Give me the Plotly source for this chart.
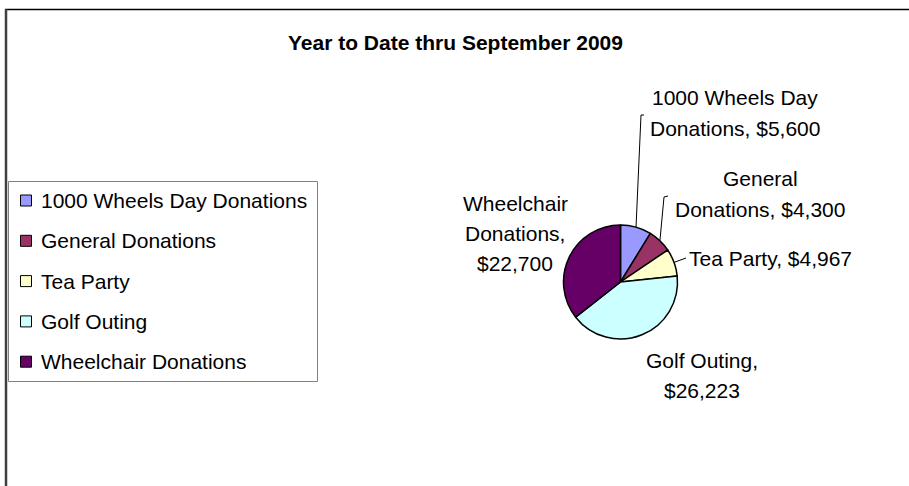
import math
import plotly.graph_objects as go

# ---- data ----
categories = ["1000 Wheels Day Donations", "General Donations", "Tea Party",
              "Golf Outing", "Wheelchair Donations"]
amounts = [5600, 4300, 4967, 26223, 22700]
colors = ["#9999FF", "#993366", "#FFFFCC", "#CCFFFF", "#660066"]
label_lines = [
    ["1000 Wheels Day", "Donations, $5,600"],
    ["General", "Donations, $4,300"],
    ["Tea Party, $4,967"],
    ["Golf Outing,", "$26,223"],
    ["Wheelchair", "Donations,", "$22,700"],
]
title_text = "Year to Date thru September 2009"

# ---- layout constants (pixels) ----
W, H = 909, 486
CX, CY, R = 620.5, 282.0, 57.0
FONT = "Liberation Sans, Arial, sans-serif"
FS = 21
LINE_GAP = 30
# label block centres (x, y) in pixels
label_pos = [(735, 113), (760, 194), (770, 258), (702, 375), (515, 233.5)]
# leader line bend points (None = no leader)
leaders = [
    [(641, 115), (644, 115)],
    [(664, 197), (668, 196)],
    [(686, 258)],
    None,
    None,
]


def fx(x):
    return x / W


def fy(y):
    return 1 - y / H


fig = go.Figure()
fig.add_trace(go.Pie(
    labels=categories, values=amounts, sort=False, direction="clockwise",
    rotation=0, textinfo="none", showlegend=False,
    marker=dict(colors=colors, line=dict(color="black", width=1.5)),
    domain=dict(x=[fx(CX - R), fx(CX + R)], y=[fy(CY + R), fy(CY - R)]),
))

shapes = []
annotations = []

# frame
shapes.append(dict(type="line", xref="paper", yref="paper",
                   x0=fx(5), x1=1.02, y0=fy(9.5), y1=fy(9.5),
                   line=dict(color="black", width=1.5)))
shapes.append(dict(type="line", xref="paper", yref="paper",
                   x0=fx(6), x1=fx(6), y0=fy(9), y1=-0.02,
                   line=dict(color="#404040", width=2.5)))

# title
annotations.append(dict(text="<b>" + title_text + "</b>", xref="paper", yref="paper",
                        x=fx(456), y=fy(43), xanchor="center", yanchor="middle",
                        showarrow=False, font=dict(family=FONT, size=21, color="black")))

# data labels and leader lines
total = sum(amounts)
cum = 0.0
for i, v in enumerate(amounts):
    mid = (cum + v / 2) / total * 2 * math.pi
    cum += v
    ex = CX + R * math.sin(mid)
    ey = CY - R * math.cos(mid)
    if leaders[i]:
        pts = [(ex, ey)] + leaders[i]
        path = "M " + " L ".join(f"{fx(px)},{fy(py)}" for px, py in pts)
        shapes.append(dict(type="path", xref="paper", yref="paper", path=path,
                           line=dict(color="black", width=1)))
    lx, ly = label_pos[i]
    n = len(label_lines[i])
    for j, t in enumerate(label_lines[i]):
        yy = ly + (j - (n - 1) / 2) * LINE_GAP
        annotations.append(dict(text=t, xref="paper", yref="paper", x=fx(lx), y=fy(yy),
                                xanchor="center", yanchor="middle", showarrow=False,
                                font=dict(family=FONT, size=FS, color="black")))

# legend (custom box)
shapes.append(dict(type="rect", xref="paper", yref="paper",
                   x0=fx(8.5), x1=fx(317.5), y0=fy(181.5), y1=fy(381.5),
                   line=dict(color="#808080", width=1), fillcolor="white", layer="below"))
LEG_Y0, LEG_STEP = 200.5, 40.3
for i, (name, c) in enumerate(zip(categories, colors)):
    yc = LEG_Y0 + i * LEG_STEP
    shapes.append(dict(type="rect", xref="paper", yref="paper",
                       x0=fx(20.5), x1=fx(31.5), y0=fy(yc - 5.5), y1=fy(yc + 5.5),
                       line=dict(color="black", width=1), fillcolor=c))
    annotations.append(dict(text=name, xref="paper", yref="paper", x=fx(39), y=fy(yc),
                            xanchor="left", yanchor="middle", showarrow=False,
                            font=dict(family=FONT, size=FS, color="black")))

fig.update_layout(width=W, height=H, margin=dict(l=0, r=0, t=0, b=0),
                  paper_bgcolor="white", plot_bgcolor="white",
                  shapes=shapes, annotations=annotations, showlegend=False)

fig.write_html("out.html")
